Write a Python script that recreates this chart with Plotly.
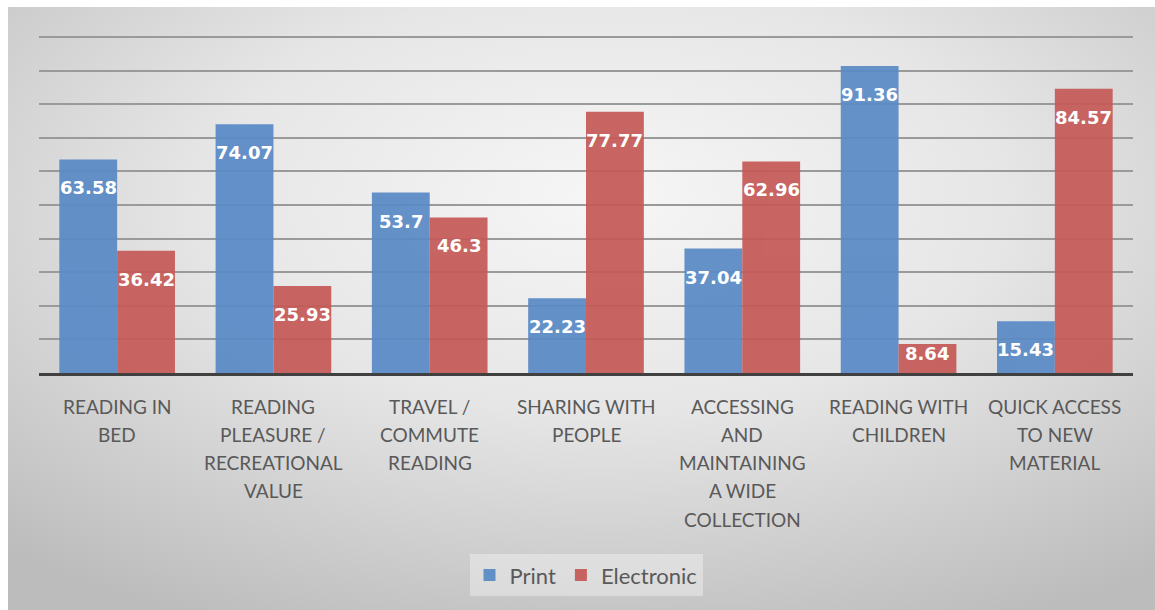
import base64
import plotly.graph_objects as go

# Survey categories (wrapped with <br>) and the two series
categories = [
    "READING IN<br>BED",
    "READING<br>PLEASURE /<br>RECREATIONAL<br>VALUE",
    "TRAVEL /<br>COMMUTE<br>READING",
    "SHARING WITH<br>PEOPLE",
    "ACCESSING<br>AND<br>MAINTAINING<br>A WIDE<br>COLLECTION",
    "READING WITH<br>CHILDREN",
    "QUICK ACCESS<br>TO NEW<br>MATERIAL",
]
print_values = [63.58, 74.07, 53.7, 22.23, 37.04, 91.36, 15.43]
electronic_values = [36.42, 25.93, 46.3, 77.77, 62.96, 8.64, 84.57]

BLUE = "#5A8AC6"
RED = "#C55A57"
TEXT_GRAY = "#595959"

W, H = 1155, 610
ML, MR, MT, MB = 39, 22, 36, 237
PW, PH = W - ML - MR, H - MT - MB
BARGAP = 0.26
Y_MAX = 100.3

# Soft radial grey backdrop for the chart area
svg = (
    '<svg xmlns="http://www.w3.org/2000/svg" width="1147" height="603" '
    'preserveAspectRatio="none" viewBox="0 0 1147 603">'
    '<defs><radialGradient id="g" cx="0.52" cy="0.32" r="0.78">'
    '<stop offset="0" stop-color="#f6f6f6"/>'
    '<stop offset="0.45" stop-color="#e6e6e6"/>'
    '<stop offset="1" stop-color="#bcbcbc"/>'
    '</radialGradient></defs>'
    '<rect width="1147" height="603" fill="url(#g)"/></svg>'
)
bg_src = "data:image/svg+xml;base64," + base64.b64encode(svg.encode()).decode()

fig = go.Figure()
fig.add_trace(go.Bar(name="Print", x=categories, y=print_values,
                     marker=dict(color=BLUE, line=dict(width=0)), opacity=0.93))
fig.add_trace(go.Bar(name="Electronic", x=categories, y=electronic_values,
                     marker=dict(color=RED, line=dict(width=0)), opacity=0.93))

# Value labels just inside the top of each bar
half = (1 - BARGAP) / 4
for series, sign in ((print_values, -1), (electronic_values, 1)):
    for i, v in enumerate(series):
        fig.add_annotation(
            x=i + sign * half, y=v, xref="x", yref="y",
            text=str(v), showarrow=False,
            yanchor="top", yshift=-16 if v >= 12 else 3,
            font=dict(family="DejaVu Sans", size=18, color="white", weight="bold"),
        )

# Category labels, one line at a time for a wider line spacing
LINE_PX = 28.3
FIRST_LINE_PX = 33  # below the axis line
for i, cat in enumerate(categories):
    for j, line in enumerate(cat.split("<br>")):
        fig.add_annotation(
            x=i, xref="x", yref="paper",
            y=-(FIRST_LINE_PX + j * LINE_PX) / PH,
            text=line, showarrow=False, yanchor="middle",
            font=dict(family="Lato", size=19, color=TEXT_GRAY),
        )

x0_px, y0_px = 8, 7
fig.add_layout_image(
    source=bg_src, xref="paper", yref="paper",
    x=(x0_px - ML) / PW, y=1 + (MT - y0_px) / PH,
    sizex=(W - x0_px) / PW, sizey=(H - y0_px) / PH,
    xanchor="left", yanchor="top", sizing="stretch", layer="below",
)

fig.update_layout(
    width=W, height=H,
    margin=dict(l=ML, r=MR, t=MT, b=MB),
    paper_bgcolor="white",
    plot_bgcolor="rgba(0,0,0,0)",
    barmode="group", bargap=BARGAP, bargroupgap=0,
    showlegend=True,
    legend=dict(
        orientation="h", xanchor="center", x=0.5,
        yanchor="middle", y=-0.60,
        bgcolor="rgba(255,255,255,0.35)",
        font=dict(family="Lato", size=22, color=TEXT_GRAY),
        itemwidth=30,
    ),
    font=dict(family="Lato", color=TEXT_GRAY),
)
fig.update_yaxes(
    range=[0, Y_MAX], dtick=10, showticklabels=False,
    showgrid=True, gridcolor="#9a9a9a", gridwidth=2,
    zeroline=False, showline=False,
)
fig.update_xaxes(
    showline=True, linecolor="#404040", linewidth=3,
    ticks="", showticklabels=False,
)

fig.write_html("out.html")
